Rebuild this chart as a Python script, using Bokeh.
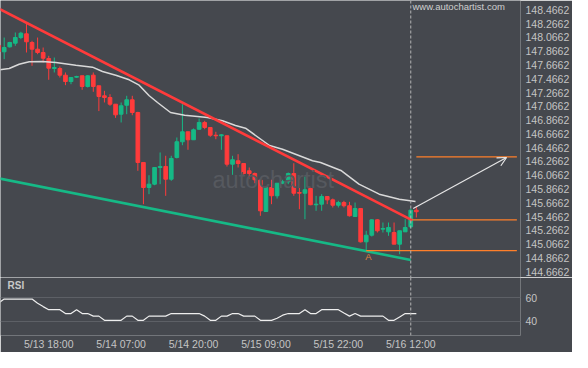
from bokeh.plotting import figure
from bokeh.models import Range1d, FixedTicker, PrintfTickFormatter, Span, Label, Arrow, OpenHead
from bokeh.layouts import column
from bokeh.embed import file_html
from bokeh.resources import INLINE

# ---------------- data ----------------
first_idx = -1  # candle index of first (partly hidden) candle; idx 0 = 5/13 10:00
opens = [147.953, 147.857, 147.929, 147.982, 148.064, 148.118, 147.992, 147.895, 147.847, 147.760,
         147.615, 147.615, 147.518, 147.426, 147.489, 147.509, 147.354, 147.518, 147.364, 147.219,
         147.194, 147.097, 146.952, 147.082, 147.161, 146.977, 146.252, 145.889, 145.937, 146.179,
         146.194, 146.009, 146.324, 146.552, 146.697, 146.581, 146.734, 146.832, 146.759, 146.647,
         146.639, 146.639, 146.227, 146.276, 146.237, 146.131, 146.092, 145.995, 145.541, 145.889,
         145.769, 145.951, 145.971, 146.092, 145.816, 145.806, 145.874, 145.638, 145.647, 145.758,
         145.710, 145.632, 145.671, 145.624, 145.468, 145.584, 145.101, 145.197, 145.420, 145.285,
         145.246, 145.236, 145.067, 145.246, 145.319, 145.560]
highs = [147.960, 148.064, 148.002, 148.137, 148.147, 148.282, 148.017, 148.064, 147.919, 147.799,
         147.774, 147.644, 147.557, 147.484, 147.509, 147.509, 147.518, 147.557, 147.364, 147.291,
         147.242, 147.097, 147.122, 147.219, 147.219, 146.987, 146.252, 146.067, 146.179, 146.397,
         146.349, 146.349, 146.614, 147.097, 146.697, 146.745, 146.890, 146.856, 146.759, 146.697,
         146.662, 146.639, 146.349, 146.372, 146.237, 146.179, 146.106, 145.995, 145.889, 146.001,
         145.951, 146.001, 146.106, 146.241, 146.001, 146.048, 145.889, 145.768, 145.792, 145.758,
         145.729, 145.696, 145.696, 145.681, 145.671, 145.584, 145.261, 145.429, 145.429, 145.381,
         145.381, 145.381, 145.261, 145.429, 145.584, 145.609]
lows = [147.850, 147.750, 147.919, 147.944, 148.040, 147.847, 147.654, 147.822, 147.702, 147.451,
        147.557, 147.484, 147.373, 147.387, 147.480, 147.306, 147.339, 147.277, 146.997, 147.122,
        147.074, 146.899, 146.832, 146.952, 146.937, 146.131, 145.647, 145.792, 145.922, 145.937,
        145.768, 145.986, 146.310, 146.502, 146.436, 146.581, 146.726, 146.734, 146.624, 146.589,
        146.436, 146.193, 146.073, 146.179, 146.077, 146.019, 145.951, 145.478, 145.541, 145.647,
        145.729, 145.937, 145.937, 145.769, 145.574, 145.429, 145.632, 145.551, 145.551, 145.647,
        145.599, 145.599, 145.599, 145.468, 145.468, 145.091, 144.971, 145.178, 145.236, 145.236,
        145.188, 145.067, 144.921, 145.246, 145.294, 145.454]
closes = [147.857, 147.919, 147.992, 148.064, 148.127, 148.002, 147.895, 147.847, 147.764, 147.619,
          147.629, 147.518, 147.426, 147.484, 147.499, 147.354, 147.509, 147.354, 147.209, 147.194,
          147.097, 146.943, 147.074, 147.161, 146.977, 146.252, 145.889, 145.937, 146.179, 146.194,
          146.009, 146.310, 146.552, 146.697, 146.581, 146.726, 146.832, 146.759, 146.647, 146.639,
          146.653, 146.227, 146.291, 146.237, 146.092, 146.092, 146.001, 145.551, 145.889, 145.769,
          145.951, 145.971, 146.092, 145.806, 145.806, 145.856, 145.639, 145.647, 145.758, 145.710,
          145.632, 145.671, 145.624, 145.479, 145.584, 145.101, 145.197, 145.420, 145.261, 145.294,
          145.309, 145.067, 145.261, 145.309, 145.560, 145.537]
rsi = [55.5, 58.9, 58.9, 58.9, 58.9, 58.9, 58.9, 55.3, 52.5, 49.9,
       49.9, 49.9, 46.6, 46.6, 49.9, 46.6, 46.6, 44.4, 44.4, 40.8,
       40.8, 40.8, 40.8, 44.4, 44.4, 40.8, 40.8, 44.4, 44.4, 44.4,
       44.4, 46.6, 46.6, 46.6, 46.6, 46.6, 46.6, 44.4, 40.8, 40.8,
       44.4, 44.4, 46.6, 46.6, 44.4, 44.4, 44.4, 40.8, 40.8, 40.8,
       42.6, 45.2, 46.6, 46.6, 46.6, 49.9, 46.6, 46.6, 49.9, 49.9,
       49.9, 49.9, 47.1, 44.4, 46.6, 44.4, 44.4, 44.4, 44.4, 44.4,
       40.8, 40.8, 43.7, 46.6, 46.6, 46.6]

ma_x = [-0.84, 0.9, 2.69, 4.49, 6.88, 9.27, 12.86, 15.86, 17.65, 20.04, 22.45, 24.24, 26.04, 27.53,
        29.86, 32.4, 34.71, 36.5, 39.2, 41.53, 43.33, 47.64, 49.97, 52.31, 55.36, 56.8, 60.57, 63.7,
        67.34, 70.93, 73.85]
ma_y = [147.596, 147.615, 147.677, 147.712, 147.716, 147.702, 147.663, 147.634, 147.571, 147.518,
        147.451, 147.373, 147.219, 147.122, 146.977, 146.937, 146.919, 146.904, 146.856, 146.788,
        146.749, 146.498, 146.444, 146.372, 146.276, 146.252, 146.131, 145.937, 145.792, 145.719,
        145.686]

resist_x = [-1.0, 73.3]
resist_y = [148.484, 145.413]
support_x = [-1.0, 73.0]
support_y = [146.022, 144.838]

level_x0 = [74.0, 73.3, 65.0]
level_x1 = [92.05, 92.05, 92.05]
level_y = [146.334, 145.420, 144.972]

arrow_from = (73.44, 145.584)
arrow_to = (90.2, 146.324)
pattern_point = (65.4, 144.881)

now_idx = 73
y_ticks = [144.6662 + 0.2 * k for k in range(21)]
x_tick_idx = [8, 21, 34, 47, 60, 73]
x_tick_labels = ["5/13 18:00", "5/14 07:00", "5/14 20:00", "5/15 09:00", "5/15 22:00", "5/16 12:00"]
rsi_ticks = [40, 60]

# ---------------- style ----------------
BG = "#45484e"
RED = "#ff3b3b"
GREEN = "#16b986"
ORANGE = "#ff7f2a"
WHITE = "#e6e6e6"
TXT = "#c4c4c4"
FONT = "Liberation Sans"


def style_axis(ax, standoff):
    ax.axis_line_color = None
    ax.major_tick_line_color = None
    ax.minor_tick_line_color = None
    ax.major_tick_out = 0
    ax.major_tick_in = 0
    ax.minor_tick_out = 0
    ax.minor_tick_in = 0
    ax.major_label_standoff = standoff
    ax.major_label_text_color = TXT
    ax.major_label_text_font = FONT
    ax.major_label_text_font_size = "10.5px"


idx = list(range(first_idx, first_idx + len(opens)))
up = [c >= o for o, c in zip(opens, closes)]
cols = [GREEN if u else RED for u in up]

p = figure(width=572, height=277, x_range=Range1d(-0.66, 92.7), y_range=Range1d(144.5836, 148.601),
           output_backend="svg", toolbar_location=None, y_axis_location="right", x_axis_location=None,
           min_border_left=0, min_border_right=52, min_border_top=0, min_border_bottom=0,
           background_fill_color=BG, border_fill_color=BG, outline_line_color=None)
p.grid.visible = False
ya = p.yaxis[0]
ya.ticker = FixedTicker(ticks=y_ticks)
ya.formatter = PrintfTickFormatter(format="%.4f")
style_axis(ya, 5)

# watermark
p.add_layout(Label(x=37.4, y=146.0, text="autochartist", text_color="#56595f", text_font=FONT,
                   text_font_size="23.5px", text_baseline="alphabetic"))
p.add_layout(Label(x=73.3, y=148.595, text="www.autochartist.com", text_color="#cfcfcf", text_font=FONT,
                   text_font_size="9.5px", text_baseline="top"))

# candles
p.segment(x0=idx, y0=highs, x1=idx, y1=lows, line_color=cols, line_width=1)
p.vbar(x=idx, width=0.66, top=[max(o, c) for o, c in zip(opens, closes)],
       bottom=[min(o, c) for o, c in zip(opens, closes)],
       fill_color=cols, line_color=cols, line_width=1)

# MA, trend lines
p.line(ma_x, ma_y, line_color="#d9d9d9", line_width=1.5)
p.line(resist_x, resist_y, line_color=RED, line_width=2.6)
p.line(support_x, support_y, line_color=GREEN, line_width=2.6)

# levels and arrow
p.segment(x0=level_x0, y0=level_y, x1=level_x1, y1=level_y, line_color=ORANGE, line_width=1.3)
p.add_layout(Arrow(end=OpenHead(size=9, line_color=WHITE, line_width=1.2),
                   x_start=arrow_from[0], y_start=arrow_from[1], x_end=arrow_to[0], y_end=arrow_to[1],
                   line_color=WHITE, line_width=1.2))
p.add_layout(Label(x=pattern_point[0], y=pattern_point[1], text="A", text_color="#e0803c", text_font=FONT,
                   text_font_size="9.5px", text_align="center", text_baseline="middle"))
p.add_layout(Span(location=now_idx, dimension="height", line_color="#b4b4b4", line_dash="3 2", line_width=1))

# ---------------- RSI panel ----------------
r = figure(width=572, height=75, x_range=p.x_range, y_range=Range1d(27.9, 77.28),
           output_backend="svg", toolbar_location=None, y_axis_location="right",
           min_border_left=0, min_border_right=52, min_border_top=0, min_border_bottom=15,
           background_fill_color=BG, border_fill_color=BG, outline_line_color=None)
r.xgrid.visible = False
r.ygrid.grid_line_color = "#5d6066"
r.ygrid.grid_line_width = 1
ry = r.yaxis[0]
ry.ticker = FixedTicker(ticks=rsi_ticks)
style_axis(ry, 5)
rx = r.xaxis[0]
rx.ticker = FixedTicker(ticks=x_tick_idx)
rx.major_label_overrides = {k: v for k, v in zip(x_tick_idx, x_tick_labels)}
style_axis(rx, 2)

r.line(idx, rsi, line_color="#eeeeee", line_width=1.2)
r.add_layout(Label(x=0.6, y=75.2, text="RSI", text_color="#c8c8c8", text_font=FONT,
                   text_font_size="10px", text_font_style="bold", text_baseline="top"))
r.add_layout(Span(location=now_idx, dimension="height", line_color="#b4b4b4", line_dash="3 2", line_width=1))

layout = column(p, r, spacing=0)
open("out.html", "w").write(file_html(layout, INLINE))
